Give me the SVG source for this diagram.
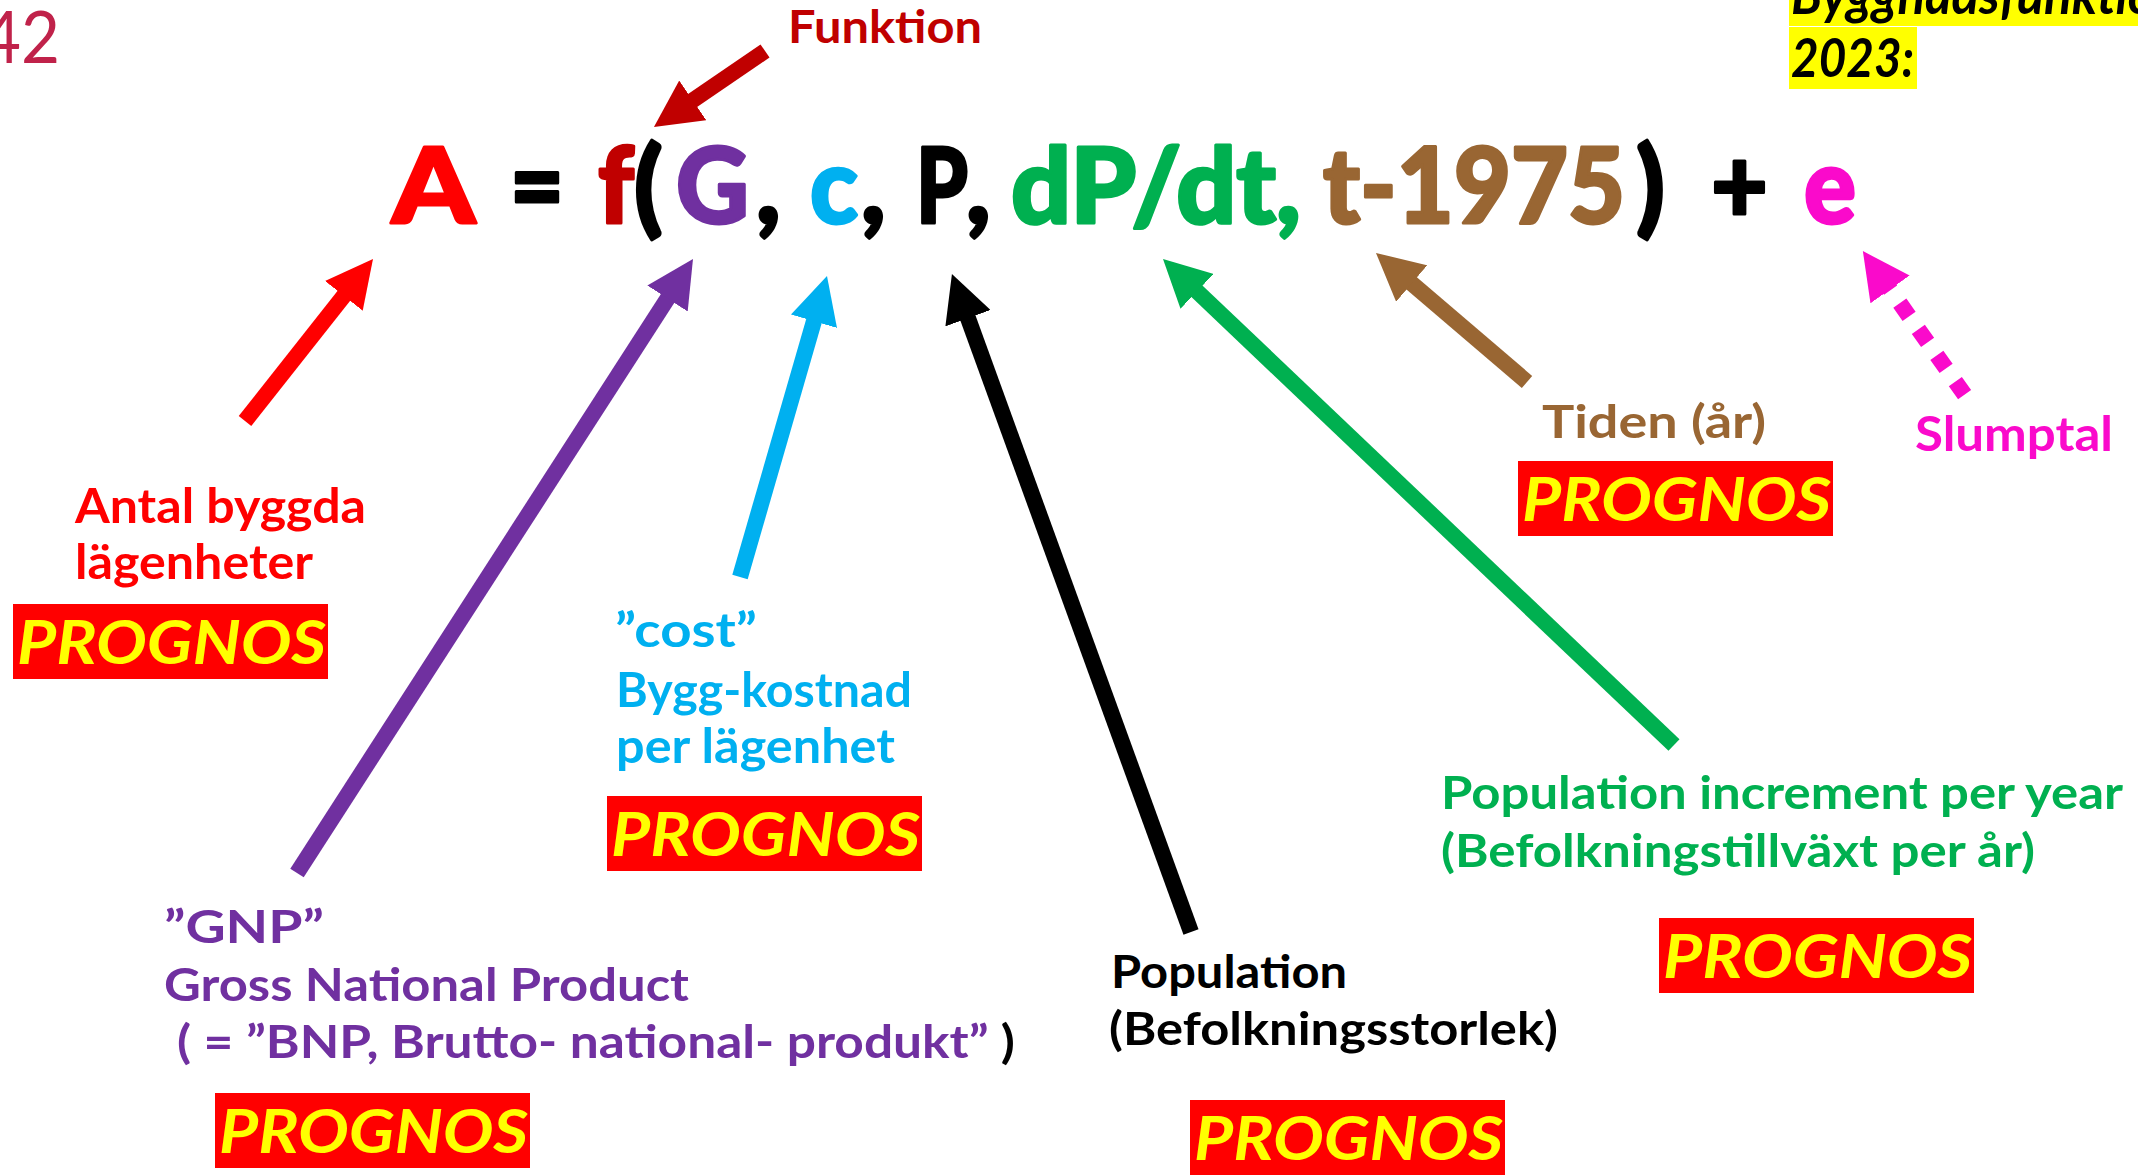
<svg xmlns="http://www.w3.org/2000/svg" width="2138" height="1175" viewBox="0 0 2138 1175">
<style>
  .t { font-family: Lato, "Open Sans", "Liberation Sans", sans-serif; font-weight: 700; }
  .eq text { font-size: 104px; font-weight: 900; fill: currentColor; stroke: currentColor; stroke-width: 3px; stroke-linejoin: round; }
  .lab { font-size: 46px; }
  .prog rect { fill: #FF0000; }
  .prog text { fill: #FFFF00; font-style: italic; font-size: 62px; }
  .arr { fill: none; stroke-width: 16; stroke-linecap: butt; }
</style>
<defs>
  <marker id="mRed" markerUnits="userSpaceOnUse" markerWidth="48" markerHeight="48" viewBox="0 0 48 48" refX="2" refY="24" orient="auto"><path d="M0,0 L47,24 L0,48 Z" fill="#FF0000"/></marker>
  <marker id="mDred" markerUnits="userSpaceOnUse" markerWidth="48" markerHeight="48" viewBox="0 0 48 48" refX="2" refY="24" orient="auto"><path d="M0,0 L47,24 L0,48 Z" fill="#C00000"/></marker>
  <marker id="mPur" markerUnits="userSpaceOnUse" markerWidth="48" markerHeight="48" viewBox="0 0 48 48" refX="2" refY="24" orient="auto"><path d="M0,0 L47,24 L0,48 Z" fill="#7030A0"/></marker>
  <marker id="mCya" markerUnits="userSpaceOnUse" markerWidth="48" markerHeight="48" viewBox="0 0 48 48" refX="2" refY="24" orient="auto"><path d="M0,0 L47,24 L0,48 Z" fill="#00B0F0"/></marker>
  <marker id="mBlk" markerUnits="userSpaceOnUse" markerWidth="48" markerHeight="48" viewBox="0 0 48 48" refX="2" refY="24" orient="auto"><path d="M0,0 L47,24 L0,48 Z" fill="#000000"/></marker>
  <marker id="mGrn" markerUnits="userSpaceOnUse" markerWidth="48" markerHeight="48" viewBox="0 0 48 48" refX="2" refY="24" orient="auto"><path d="M0,0 L47,24 L0,48 Z" fill="#00B050"/></marker>
  <marker id="mBrn" markerUnits="userSpaceOnUse" markerWidth="48" markerHeight="48" viewBox="0 0 48 48" refX="2" refY="24" orient="auto"><path d="M0,0 L47,24 L0,48 Z" fill="#996633"/></marker>
  <marker id="mMag" markerUnits="userSpaceOnUse" markerWidth="48" markerHeight="48" viewBox="0 0 48 48" refX="2" refY="24" orient="auto"><path d="M0,0 L47,24 L0,48 Z" fill="#FA0ACB"/></marker>
</defs>
<rect width="2138" height="1175" fill="#FFFFFF"/>

<!-- page number -->
<g id="page-number">
  <text x="-18" y="63" font-family="Lato, 'Liberation Sans', sans-serif" font-size="71" fill="#C0224A" textLength="78" lengthAdjust="spacingAndGlyphs">42</text>
</g>

<!-- title (cut off at top right) -->
<g id="title">
  <rect x="1789" y="0" width="349" height="26" fill="#FFFF00"/>
  <rect x="1789" y="27" width="128" height="62" fill="#FFFF00"/>
  <text class="t" x="1791" y="14" font-size="54" font-style="italic" fill="#000" textLength="391" lengthAdjust="spacingAndGlyphs">Byggnadsfunktion</text>
  <text class="t" x="1791" y="77" font-size="54" font-style="italic" fill="#000" textLength="123" lengthAdjust="spacingAndGlyphs">2023:</text>
</g>

<!-- equation -->
<g id="equation" class="t eq">
  <text x="392" y="223" color="#FF0000" textLength="83" lengthAdjust="spacingAndGlyphs">A</text>
  <text x="510" y="223" color="#000000" textLength="54" lengthAdjust="spacingAndGlyphs">=</text>
  <text x="598" y="223" color="#C00000" textLength="36" lengthAdjust="spacingAndGlyphs">f</text>
  <text x="634" y="223" color="#000000">(</text>
  <text x="676" y="223" color="#7030A0" textLength="73" lengthAdjust="spacingAndGlyphs">G</text>
  <text x="756" y="223" color="#000000">,</text>
  <text x="810" y="223" color="#00B0F0" textLength="48" lengthAdjust="spacingAndGlyphs">c</text>
  <text x="861" y="223" color="#000000">,</text>
  <text x="916" y="223" color="#000000" textLength="52" lengthAdjust="spacingAndGlyphs">P</text>
  <text x="966" y="223" color="#000000">,</text>
  <text x="1011" y="223" color="#00B050" textLength="290" lengthAdjust="spacingAndGlyphs">dP/dt,</text>
  <text x="1323" y="223" color="#996633" textLength="302" lengthAdjust="spacingAndGlyphs">t-1975</text>
  <text x="1636" y="223" color="#000000">)</text>
  <text x="1711" y="223" color="#000000" textLength="57" lengthAdjust="spacingAndGlyphs">+</text>
  <text x="1804" y="223" color="#FA0ACB" textLength="52" lengthAdjust="spacingAndGlyphs">e</text>
</g>

<!-- nodes -->
<g id="node-funktion" class="t lab">
  <text x="788" y="43" fill="#C00000" textLength="194" lengthAdjust="spacingAndGlyphs">Funktion</text>
</g>

<g id="node-antal" class="t lab">
  <text x="75" y="523" fill="#FF0000" font-size="47" textLength="291" lengthAdjust="spacingAndGlyphs">Antal byggda</text>
  <text x="75" y="579" fill="#FF0000" font-size="47" textLength="238" lengthAdjust="spacingAndGlyphs">lägenheter</text>
  <g class="prog"><rect x="13" y="604" width="315" height="75"/><text x="17" y="664" textLength="309" lengthAdjust="spacingAndGlyphs">PROGNOS</text></g>
</g>

<g id="node-cost" class="t lab">
  <text x="615" y="647" fill="#00B0F0" font-size="48" textLength="142" lengthAdjust="spacingAndGlyphs">”cost”</text>
  <text x="616" y="707" fill="#00B0F0" font-size="48" textLength="296" lengthAdjust="spacingAndGlyphs">Bygg-kostnad</text>
  <text x="616" y="763" fill="#00B0F0" font-size="48" textLength="279" lengthAdjust="spacingAndGlyphs">per lägenhet</text>
  <g class="prog"><rect x="607" y="796" width="315" height="75"/><text x="611" y="856" textLength="309" lengthAdjust="spacingAndGlyphs">PROGNOS</text></g>
</g>

<g id="node-gnp" class="t lab">
  <text x="164" y="943" fill="#7030A0" textLength="160" lengthAdjust="spacingAndGlyphs">”GNP”</text>
  <text x="164" y="1001" fill="#7030A0" textLength="525" lengthAdjust="spacingAndGlyphs">Gross National Product</text>
  <text x="177" y="1058" fill="#7030A0" textLength="838" lengthAdjust="spacingAndGlyphs">( = ”BNP, Brutto- national- produkt” <tspan fill="#000">)</tspan></text>
  <g class="prog"><rect x="215" y="1093" width="315" height="75"/><text x="219" y="1153" textLength="309" lengthAdjust="spacingAndGlyphs">PROGNOS</text></g>
</g>

<g id="node-population" class="t lab">
  <text x="1111" y="988" fill="#000" textLength="236" lengthAdjust="spacingAndGlyphs">Population</text>
  <text x="1109" y="1045" fill="#000" textLength="449" lengthAdjust="spacingAndGlyphs">(Befolkningsstorlek)</text>
  <g class="prog"><rect x="1190" y="1100" width="315" height="75"/><text x="1194" y="1160" textLength="309" lengthAdjust="spacingAndGlyphs">PROGNOS</text></g>
</g>

<g id="node-increment" class="t lab">
  <text x="1441" y="809" fill="#00B050" textLength="682" lengthAdjust="spacingAndGlyphs">Population increment per year</text>
  <text x="1441" y="867" fill="#00B050" textLength="594" lengthAdjust="spacingAndGlyphs">(Befolkningstillväxt per år)</text>
  <g class="prog"><rect x="1659" y="918" width="315" height="75"/><text x="1663" y="978" textLength="309" lengthAdjust="spacingAndGlyphs">PROGNOS</text></g>
</g>

<g id="node-tiden" class="t lab">
  <text x="1542" y="438" fill="#996633" textLength="224" lengthAdjust="spacingAndGlyphs">Tiden (år)</text>
  <g class="prog"><rect x="1518" y="461" width="315" height="75"/><text x="1522" y="521" textLength="309" lengthAdjust="spacingAndGlyphs">PROGNOS</text></g>
</g>

<g id="node-slumptal" class="t lab">
  <text x="1915" y="451" fill="#FA0ACB" font-size="48" textLength="198" lengthAdjust="spacingAndGlyphs">Slumptal</text>
</g>

<!-- connectors -->
<g id="connectors">
  <line class="arr" x1="765" y1="51" x2="691.1" y2="101.5" stroke="#C00000" marker-end="url(#mDred)"/>
  <line class="arr" x1="245" y1="421" x2="345.1" y2="294.3" stroke="#FF0000" marker-end="url(#mRed)"/>
  <line class="arr" x1="297" y1="873" x2="668.6" y2="296.8" stroke="#7030A0" marker-end="url(#mPur)"/>
  <line class="arr" x1="740" y1="577" x2="814.5" y2="319.3" stroke="#00B0F0" marker-end="url(#mCya)"/>
  <line class="arr" x1="1191" y1="932" x2="967.3" y2="316.3" stroke="#000000" marker-end="url(#mBlk)"/>
  <line class="arr" x1="1674" y1="745" x2="1195.6" y2="290" stroke="#00B050" marker-end="url(#mGrn)"/>
  <line class="arr" x1="1527" y1="382" x2="1410.2" y2="282.2" stroke="#996633" marker-end="url(#mBrn)"/>
  <line class="arr" x1="1964.6" y1="394.6" x2="1888.9" y2="287.8" stroke="#FA0ACB" stroke-dasharray="16 16" marker-end="url(#mMag)"/>
</g>
</svg>
